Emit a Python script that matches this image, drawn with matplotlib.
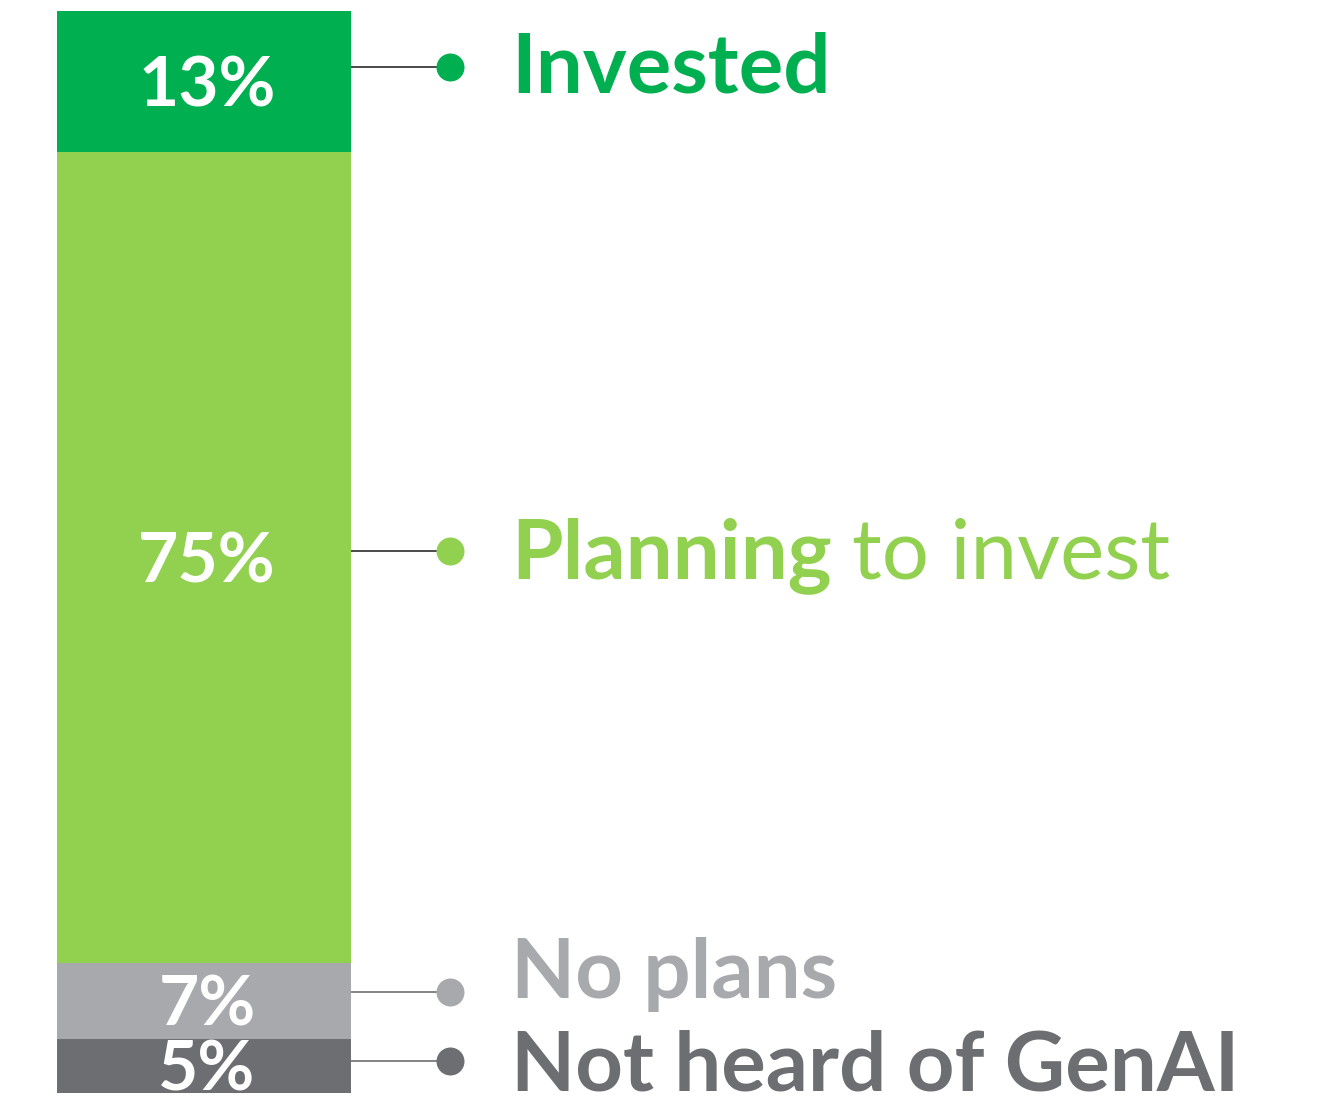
import matplotlib
matplotlib.use('Agg')
import matplotlib.pyplot as plt

# data, top to bottom
categories = ['Invested', 'Planning', 'No plans', 'Not heard of GenAI']
values = [13, 75, 7, 5]
pct_labels = ['13%', '75%', '7%', '5%']
colors = ['#00AF50', '#92D050', '#A7A9AC', '#6D6E71']

W, H, DPI = 1329, 1096, 100
CAP = 0.7165  # Lato cap height / em

plt.rcParams['font.family'] = ['Lato', 'DejaVu Sans']

fig = plt.figure(figsize=(W / DPI, H / DPI), dpi=DPI)
# axes spans full width in pixel units, y in percent
ax = fig.add_axes([0, 3 / H, 1, (1093 - 11) / H])
ax.set_xlim(0, W)
ax.set_ylim(0, 100)
ax.axis('off')

bar_left, bar_w = 57, 294
dot_x, text_x = 450, 511
# vertical shift of connector and label relative to segment centre (pixels, + = up)
conn_shift = [14, 6, 9, 5]
label_shift = [5, 3, 24, 0]
line_cols = ['#2b2b2b', '#2b2b2b', '#6D6E71', '#6D6E71']

px_per_pct = (1093 - 11) / 100.0

def pt(px):
    return px * 72.0 / DPI

bottom = 100.0
for i, (cat, v) in enumerate(zip(categories, values)):
    bottom -= v
    ax.bar(bar_left, v, width=bar_w, bottom=bottom, align='edge',
           color=colors[i], linewidth=0)
    mid = bottom + v / 2.0

    # percentage inside the bar
    fs = 50
    ax.annotate(pct_labels[i], (bar_left + bar_w / 2 + 3, mid),
                xytext=(0, -pt(fs / 72 * DPI * CAP) / 2), textcoords='offset points',
                ha='center', va='baseline', color='white', fontsize=fs,
                fontweight='bold')

    # connector + dot
    cy = mid + conn_shift[i] / px_per_pct
    ax.plot([bar_left + bar_w, dot_x], [cy, cy], color=line_cols[i], lw=1.2,
            solid_capstyle='butt', zorder=2)
    ax.plot(dot_x, cy, 'o', ms=pt(28), color=colors[i], mec='none', zorder=3)

    # label
    fs = 60
    ly = cy + label_shift[i] / px_per_pct
    off = -pt(fs / 72 * DPI * CAP) / 2
    if cat == 'Planning':
        t = ax.annotate('Planning', (text_x, ly), xytext=(0, off),
                        textcoords='offset points', ha='left', va='baseline',
                        color=colors[i], fontsize=fs, fontweight='bold')
        fig.canvas.draw()
        bb = t.get_window_extent()
        x2 = ax.transData.inverted().transform((bb.x1, 0))[0] + 20
        ax.annotate('to invest', (x2, ly), xytext=(0, off),
                    textcoords='offset points', ha='left', va='baseline',
                    color=colors[i], fontsize=fs, fontweight='normal')
    else:
        ax.annotate(cat, (text_x, ly), xytext=(0, off),
                    textcoords='offset points', ha='left', va='baseline',
                    color=colors[i], fontsize=fs, fontweight='bold')

fig.savefig('out.png', dpi=DPI)
